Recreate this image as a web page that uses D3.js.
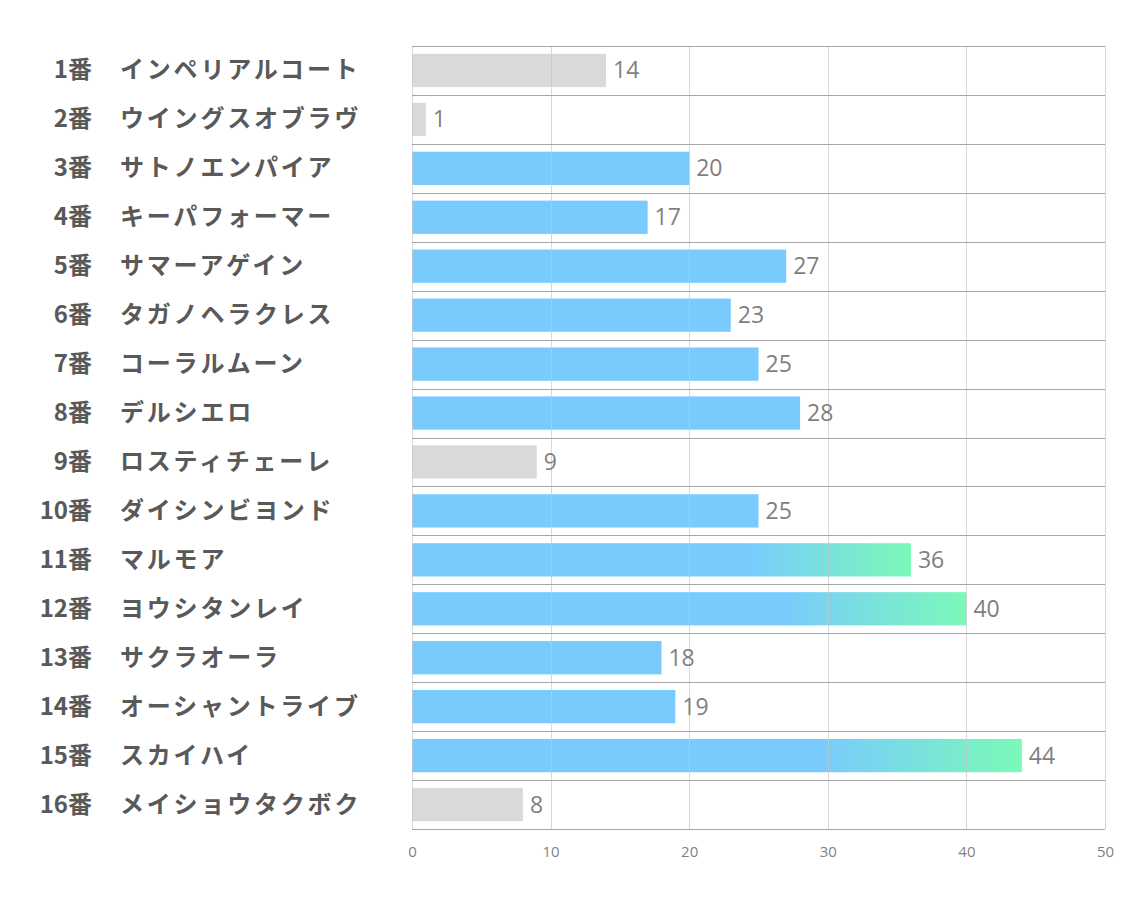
<!DOCTYPE html>
<html>
<head>
<meta charset="utf-8">
<script src="https://cdn.jsdelivr.net/npm/d3@7"></script>
<style>
  body { margin: 0; background: #fff; }
</style>
</head>
<body>
<div id="the_chart"></div>
<script>
var numbers = ["1番","2番","3番","4番","5番","6番","7番","8番","9番","10番","11番","12番","13番","14番","15番","16番"];
var horses = ["インペリアルコート","ウイングスオブラヴ","サトノエンパイア","キーパフォーマー","サマーアゲイン","タガノヘラクレス","コーラルムーン","デルシエロ","ロスティチェーレ","ダイシンビヨンド","マルモア","ヨウシタンレイ","サクラオーラ","オーシャントライブ","スカイハイ","メイショウタクボク"];
var scores = [14,1,20,17,27,23,25,28,9,25,36,40,18,19,44,8];
// 0 = gray, 1 = blue, 2 = blue->green gradient
var kinds = [0,0,1,1,1,1,1,1,0,1,2,2,1,1,2,0];
var tickVals = [0,10,20,30,40,50];

var w = 1134, h = 907;
var plotL = 412, plotR = 1105, plotT = 46, plotB = 829;

var canvas = d3.select("#the_chart")
              .append("svg")
              .attr("width", w)
              .attr("height", h);

var defs = canvas.append("defs");
var grad = defs.append("linearGradient")
              .attr("id", "grad")
              .attr("x1", "0").attr("x2", "1")
              .attr("y1", "0").attr("y2", "0");
grad.append("stop").attr("offset", "0.67").attr("stop-color", "#79cbfe");
grad.append("stop").attr("offset", "1").attr("stop-color", "#7bf9b8");

var xscale = d3.scaleLinear()
        .domain([0, 50])
        .range([plotL, plotR]);

var yscale = d3.scaleBand()
        .domain(d3.range(scores.length))
        .range([plotT, plotB])
        .padding(0);

var colorOf = function(k){ return k === 0 ? "#d9d9d9" : (k === 1 ? "#79cbfe" : "url(#grad)"); };

// bars
var bh = yscale.bandwidth() * 0.68;
canvas.append("g")
  .attr("id", "bars")
  .selectAll("rect")
  .data(scores)
  .enter()
  .append("rect")
  .attr("x", xscale(0))
  .attr("y", function(d,i){ return yscale(i) + (yscale.bandwidth() - bh)/2; })
  .attr("width", function(d){ return xscale(d) - xscale(0); })
  .attr("height", bh)
  .style("fill", function(d,i){ return colorOf(kinds[i]); });

// vertical grid
canvas.append("g")
  .attr("id", "grid")
  .selectAll("line")
  .data(tickVals)
  .enter()
  .append("line")
  .attr("x1", function(d){ return Math.round(xscale(d)) + 0.5; })
  .attr("x2", function(d){ return Math.round(xscale(d)) + 0.5; })
  .attr("y1", plotT)
  .attr("y2", plotB)
  .style("stroke", "#c8c8c8")
  .style("stroke-opacity", 0.7)
  .style("stroke-width", "1px");

// row separators
canvas.append("g")
  .attr("id", "rows")
  .selectAll("line")
  .data(d3.range(scores.length + 1))
  .enter()
  .append("line")
  .attr("x1", plotL)
  .attr("x2", plotR)
  .attr("y1", function(d){ return Math.round(plotT + d * yscale.step()) + 0.5; })
  .attr("y2", function(d){ return Math.round(plotT + d * yscale.step()) + 0.5; })
  .style("stroke", "#a6a6a6")
  .style("stroke-width", "1px");

// value labels
canvas.append("g")
  .attr("id", "values")
  .selectAll("text")
  .data(scores)
  .enter()
  .append("text")
  .attr("x", function(d){ return xscale(d) + 7; })
  .attr("y", function(d,i){ return yscale(i) + yscale.bandwidth()/2 + 8; })
  .style("font-family", "'Open Sans', 'Noto Sans', sans-serif")
  .style("font-size", "23px")
  .style("fill", "#7f7f7f")
  .text(function(d){ return d; });

// category labels
var lab = canvas.append("g").attr("id", "labels");
lab.selectAll("text.num")
  .data(numbers)
  .enter()
  .append("text")
  .attr("class", "num")
  .attr("x", 92)
  .attr("y", function(d,i){ return yscale(i) + yscale.bandwidth()/2 + 8; })
  .attr("text-anchor", "end")
  .style("font-family", "'Noto Sans CJK JP', sans-serif")
  .style("font-weight", "bold")
  .style("font-size", "24px")
  .style("fill", "#595959")
  .text(function(d){ return d; });
lab.selectAll("text.name")
  .data(horses)
  .enter()
  .append("text")
  .attr("class", "name")
  .attr("x", 120)
  .attr("y", function(d,i){ return yscale(i) + yscale.bandwidth()/2 + 8; })
  .style("font-family", "'Noto Sans CJK JP', sans-serif")
  .style("font-weight", "bold")
  .style("font-size", "24px")
  .style("letter-spacing", "2.8px")
  .style("fill", "#595959")
  .text(function(d){ return d; });

// x axis
var xAxis = d3.axisBottom(xscale)
  .tickValues(tickVals)
  .tickSize(0)
  .tickPadding(17);
var gx = canvas.append("g")
  .attr("transform", "translate(0," + plotB + ")")
  .call(xAxis);
gx.select(".domain").remove();
gx.selectAll("text")
  .style("font-family", "'Open Sans', 'Noto Sans', sans-serif")
  .style("font-size", "15px")
  .style("fill", "#7f7f7f");
</script>
</body>
</html>
